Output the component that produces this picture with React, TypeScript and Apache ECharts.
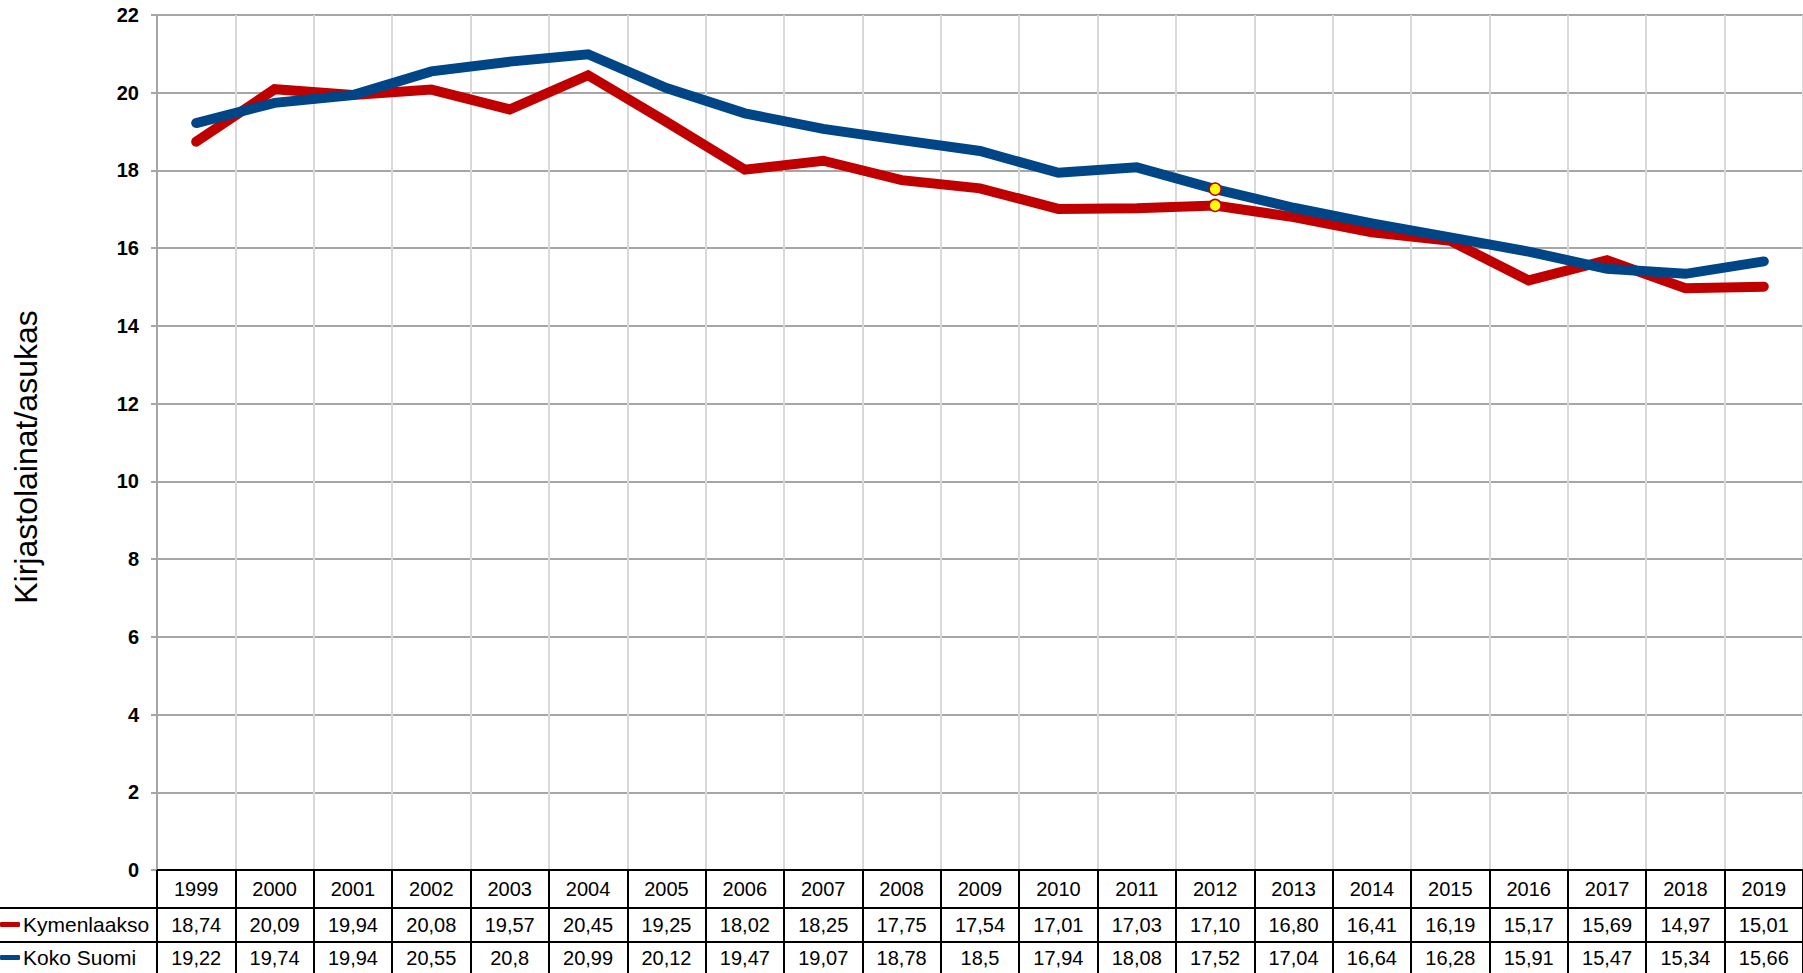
import React, { useEffect, useRef } from "react";
import * as echarts from "echarts";

const years = ["1999","2000","2001","2002","2003","2004","2005","2006","2007","2008","2009","2010","2011","2012","2013","2014","2015","2016","2017","2018","2019"];
const kymenlaakso = [18.74, 20.09, 19.94, 20.08, 19.57, 20.45, 19.25, 18.02, 18.25, 17.75, 17.54, 17.01, 17.03, 17.10, 16.80, 16.41, 16.19, 15.17, 15.69, 14.97, 15.01];
const kokoSuomi = [19.22, 19.74, 19.94, 20.55, 20.8, 20.99, 20.12, 19.47, 19.07, 18.78, 18.5, 17.94, 18.08, 17.52, 17.04, 16.64, 16.28, 15.91, 15.47, 15.34, 15.66];
const seriesNames = ["Kymenlaakso", "Koko Suomi"];
const highlightYear = "2012";
const yTitle = "Kirjastolainat/asukas";

const RED = "#c00000";
const BLUE = "#004586";
const FONT = "Liberation Sans, Arial, sans-serif";

const fmt2 = (v: number) => v.toFixed(2).replace(".", ",");
const fmtRaw = (v: number) => String(v).replace(".", ",");

export default function App() {
  const ref = useRef<HTMLDivElement>(null);
  useEffect(() => {
    if (!ref.current) return;
    const chart = echarts.init(ref.current, null, { renderer: "svg" });
    const hi = years.indexOf(highlightYear);
    const mk = (arr: number[]) =>
      arr.map((v, i) =>
        i === hi
          ? {
              value: v,
              symbol: "circle",
              symbolSize: 12,
              itemStyle: { color: "#ffff00", borderColor: RED, borderWidth: 1.5 },
            }
          : v
      );
    const lineStyle = (c: string) => ({ color: c, width: 10, cap: "round", join: "miter" });
    chart.setOption({
      animation: false,
      textStyle: { fontFamily: FONT },
      grid: { left: 157, right: 0, top: 15, bottom: 103 },
      legend: {
        orient: "vertical",
        left: 0,
        top: 914,
        itemWidth: 20,
        itemHeight: 5,
        itemGap: 12,
        icon: "roundRect",
        padding: 0,
        selectedMode: false,
        textStyle: { fontSize: 21, color: "#000", fontFamily: FONT, padding: [0, 0, 0, -2] },
        data: seriesNames,
      },
      xAxis: [
        {
          type: "category",
          data: years,
          position: "bottom",
          offset: 0,
          boundaryGap: true,
          axisLine: { show: true, lineStyle: { color: "#000", width: 2 } },
          axisTick: { show: true, length: 105, interval: 0, lineStyle: { color: "#000", width: 2 } },
          axisLabel: { interval: 0, margin: 9, fontSize: 20, color: "#000", fontFamily: FONT },
          splitLine: { show: true, interval: 0, lineStyle: { color: "#d9d9d9", width: 2 } },
        },
        {
          type: "category",
          data: years,
          position: "bottom",
          offset: 38,
          axisLine: { show: true, lineStyle: { color: "#000", width: 2 } },
          axisTick: { show: false },
          axisLabel: {
            interval: 0,
            margin: 7,
            fontSize: 20,
            color: "#000",
            fontFamily: FONT,
            formatter: (_v: string, i: number) => fmt2(kymenlaakso[i]),
          },
          splitLine: { show: false },
        },
        {
          type: "category",
          data: years,
          position: "bottom",
          offset: 72,
          axisLine: { show: true, lineStyle: { color: "#000", width: 2 } },
          axisTick: { show: false },
          axisLabel: {
            interval: 0,
            margin: 6,
            fontSize: 20,
            color: "#000",
            fontFamily: FONT,
            formatter: (_v: string, i: number) => fmtRaw(kokoSuomi[i]),
          },
          splitLine: { show: false },
        },
      ],
      yAxis: {
        type: "value",
        min: 0,
        max: 22,
        interval: 2,
        axisLine: { show: true, lineStyle: { color: "#a6a6a6", width: 2 } },
        axisTick: { show: true, length: 6, lineStyle: { color: "#a6a6a6", width: 2 } },
        axisLabel: { margin: 18, fontSize: 20, fontWeight: "bold", color: "#000", fontFamily: FONT },
        splitLine: { show: true, lineStyle: { color: "#a6a6a6", width: 2 } },
      },
      graphic: [
        {
          type: "text",
          x: 26,
          y: 457,
          rotation: Math.PI / 2,
          style: {
            text: yTitle,
            fontSize: 32,
            fontFamily: FONT,
            fill: "#000",
            textAlign: "center",
            textVerticalAlign: "middle",
          },
        },
        { type: "line", shape: { x1: 0, y1: 908, x2: 158, y2: 908 }, style: { stroke: "#000", lineWidth: 2 } },
        { type: "line", shape: { x1: 0, y1: 942, x2: 158, y2: 942 }, style: { stroke: "#000", lineWidth: 2 } },
      ],
      series: [
        {
          name: seriesNames[0],
          type: "line",
          xAxisIndex: 0,
          data: mk(kymenlaakso),
          symbol: "none",
          showSymbol: true,
          color: RED,
          lineStyle: lineStyle(RED),
          z: 2,
        },
        {
          name: seriesNames[1],
          type: "line",
          xAxisIndex: 0,
          data: mk(kokoSuomi),
          symbol: "none",
          showSymbol: true,
          color: BLUE,
          lineStyle: lineStyle(BLUE),
          z: 3,
        },
      ],
    });
    return () => chart.dispose();
  }, []);
  return (
    <div
      ref={ref}
      style={{ position: "absolute", left: 0, top: 0, width: 1803, height: 973, background: "#fff" }}
    />
  );
}
